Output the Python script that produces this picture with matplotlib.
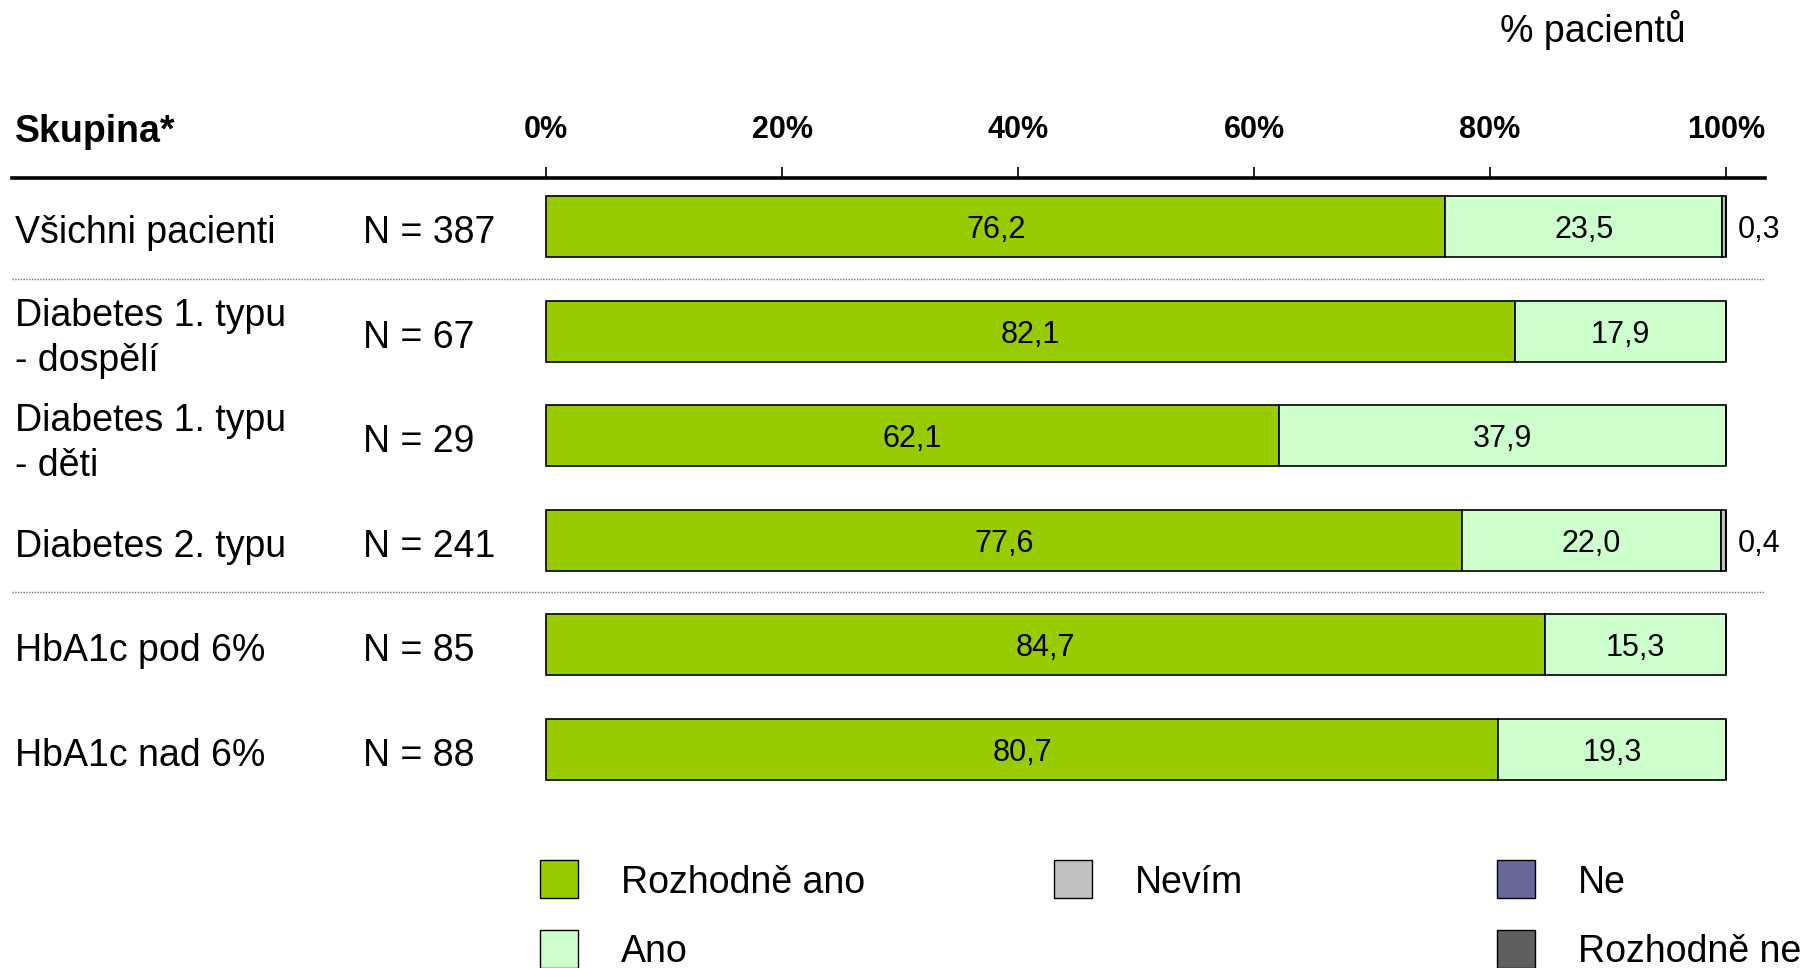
import matplotlib
matplotlib.use("Agg")
import matplotlib.pyplot as plt
from matplotlib.patches import Rectangle

plt.rcParams['font.family'] = ['Liberation Sans', 'DejaVu Sans']

groups = ["Všichni pacienti", "Diabetes 1. typu\n- dospělí", "Diabetes 1. typu\n- děti",
          "Diabetes 2. typu", "HbA1c pod 6%", "HbA1c nad 6%"]
n_labels = ["N = 387", "N = 67", "N = 29", "N = 241", "N = 85", "N = 88"]
series_names = ["Rozhodně ano", "Ano", "Nevím", "Ne", "Rozhodně ne"]
rozhodne_ano = [76.2, 82.1, 62.1, 77.6, 84.7, 80.7]
ano = [23.5, 17.9, 37.9, 22.0, 15.3, 19.3]
nevim = [0.3, 0.0, 0.0, 0.4, 0.0, 0.0]
ne = [0.0, 0.0, 0.0, 0.0, 0.0, 0.0]
rozhodne_ne = [0.0, 0.0, 0.0, 0.0, 0.0, 0.0]
colors = ["#99CC00", "#CCFFCC", "#C0C0C0", "#666699", "#5F5F5F"]
xticks = [0, 20, 40, 60, 80, 100]
xtick_labels = ["0%", "20%", "40%", "60%", "80%", "100%"]
separator_after = [0, 3, 5]

W, H = 1803, 968
fig = plt.figure(figsize=(W / 100, H / 100), dpi=100)

def fx(px):
    return px / W

def fy(py):
    return 1 - py / H

# axes geometry in pixels
ax_left, ax_right = 11.5, 1765
ax_top, ax_bot = 178, 800.4
x0_px, x100_px = 546, 1726
ppu = (x100_px - x0_px) / 100.0
xmin = (ax_left - x0_px) / ppu
xmax = 100 + (ax_right - x100_px) / ppu
row0, row_sp = 226.5, 104.5
ymin_top = (ax_top - row0) / row_sp
ymax_bot = (ax_bot - row0) / row_sp

ax = fig.add_axes([fx(ax_left), fy(ax_bot), fx(ax_right - ax_left), (ax_bot - ax_top) / H])
ax.set_xlim(xmin, xmax)
ax.set_ylim(ymax_bot, ymin_top)

series = [rozhodne_ano, ano, nevim, ne, rozhodne_ne]
ypos = list(range(len(groups)))
left = [0.0] * len(groups)
bar_h = 61 / row_sp
val_dy = 0.035
for s, c in zip(series, colors):
    ax.barh(ypos, s, left=left, height=bar_h, color=c, edgecolor="black", linewidth=1.2, zorder=3)
    for i, v in enumerate(s):
        if v <= 0:
            continue
        lab = f"{v:.1f}".replace(".", ",")
        if v >= 3:
            ax.text(left[i] + v / 2, i + val_dy, lab, ha="center", va="center", fontsize=22, zorder=4)
        else:
            ax.text(101.0, i + val_dy, lab, ha="left", va="center", fontsize=22, zorder=4)
    left = [l + v for l, v in zip(left, s)]

# group labels and N
for i, (g, n) in enumerate(zip(groups, n_labels)):
    dy = 0.075 if "\n" in g else 0.065
    ax.text(xmin + (15 - ax_left) / ppu, i + dy, g, ha="left", va="center", fontsize=27, linespacing=1.32)
    ax.text(xmin + (363 - ax_left) / ppu, i + 0.065, n, ha="left", va="center", fontsize=27)

# separators
for i in separator_after:
    ax.axhline(i + 0.5, color="#777777", linestyle=(0, (1, 1)), linewidth=1.0, zorder=1)

# spines / ticks
for sp in ["left", "right", "bottom"]:
    ax.spines[sp].set_visible(False)
ax.spines["top"].set_linewidth(2.6)
ax.set_yticks([])
ax.xaxis.set_ticks_position("top")
ax.set_xticks(xticks)
ax.set_xticklabels(xtick_labels, fontsize=22, fontweight="bold")
ax.tick_params(axis="x", direction="out", length=8, width=1.2, pad=15.5)

# headers
fig.text(fx(15), fy(131.5), "Skupina*", fontsize=27, fontweight="bold", ha="left", va="center")
fig.text(fx(1593), fy(30), "% pacientů", fontsize=27, ha="center", va="center")

# legend (manual)
leg_items = [(0, 0, 0), (1, 0, 1), (2, 1, 0), (3, 2, 0), (4, 2, 1)]
col_box_x = [540, 1054, 1497]
col_txt_x = [621, 1135, 1578]
row_cy = [878.6, 948.5]
box = 38
for si, col, row in leg_items:
    cy = row_cy[row]
    fig.patches.append(Rectangle((fx(col_box_x[col]), fy(cy + box / 2)), box / W, box / H,
                                 transform=fig.transFigure, facecolor=colors[si],
                                 edgecolor="black", linewidth=1.0))
    fig.text(fx(col_txt_x[col]), fy(cy + 4), series_names[si], fontsize=27, ha="left", va="center")

fig.savefig("out.png", dpi=100)
